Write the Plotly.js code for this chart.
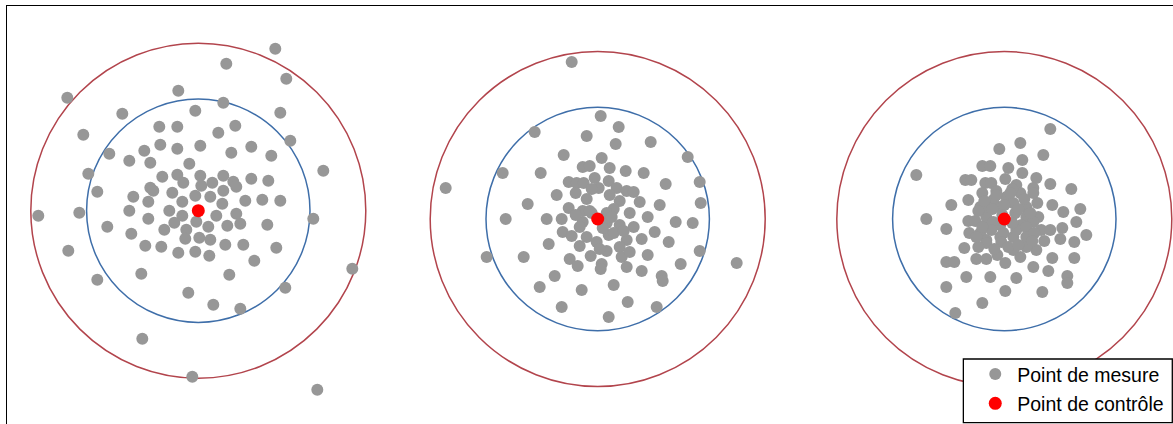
<!DOCTYPE html>
<html>
<head>
<meta charset="utf-8">
<script src="https://cdn.plot.ly/plotly-3.0.1.min.js"></script>
<style>
html, body { margin: 0; padding: 0; background: #fff; overflow: hidden; }
#chart { width: 1173px; height: 424px; }
</style>
</head>
<body>
<div id="chart"></div>
<script>
// Target (control point) centres, in px-like units
const targetCX = [0, 399.4, 806];
const targetCY = [0, -8.3, -8.3];
// Tolerance circle radii
const innerRadius = 111.7;
const outerRadius = 167.5;

// Measurement offsets from the control point, target 1
const t1dx = [77,28,88,-131,-20,25,-76,-3,82,-115,92,-89,125,-110,-101,-160,-119,115,-130,154,-101,87,-56,-6,119,42,15,-10,-57,31,56,78,
  -39,-21,37,20,-38,-21,2,-54,33,53,73,-69,-48,-9,-36,-21,-15,2,25,35,38,53,70,14,3,-48,-45,-26,-3,12,25,-65,-50,-16,24,47,64,82,-69,-29,
  -16,18,38,-50,-24,-2,10,29,42,69,-91,-67,-34,-12,-13,1,12,-53,-37,-20,-3,11,27,45];
const t1dy = [162,147,132,113,120,108,97,100,98,76,70,57,40,37,19,-5,-2,-8,-40,-58,-69,-77,-128,-166,-179,-98,-94,-82,-63,-64,-50,-37,
  84,84,85,78,66,62,65,60,58,64,55,50,48,47,34,36,28,35,35,29,24,32,30,28,25,23,20,18,15,14,20,14,9,9,7,10,11,10,0,0,
  -5,-5,-3,-8,-12,-11,-16,-15,-13,-14,-16,-23,-19,-19,-28,-27,-29,-35,-36,-42,-41,-45,-34,-34];

// Target 2
const t2dx = [-26,-152,139,-111,3,21,-63,-11,18,53,-34,4,90,-95,-57,-15,-8,12,28,46,102,68,-29,-21,-14,-3,11,1,19,29,
  36,-41,-22,-11,12,22,42,62,103,-70,-29,-15,16,32,-92,-51,-36,-15,9,22,36,50,78,95,-35,-26,-11,-1,11,16,
  29,44,57,71,-49,-18,9,22,24,32,50,102,-74,-28,-20,-7,4,3,29,44,64,65,83,-43,-58,-16,16,-36,30,59,11,
  -6,9,-18,5,-8,14,-22,26,-6,2];
const t2dy = [157,31,-44,-38,103,92,87,83,75,77,64,61,62,46,46,52,53,51,48,46,37,35,37,36,36,41,38,31,31,28,
  27,24,26,20,24,18,17,14,16,15,11,8,10,6,0,0,0,-3,-4,-6,-8,2,-3,-4,-13,-17,-18,-23,-16,-14,
  -21,-20,-13,-23,-25,-27,-32,-28,-38,-33,-36,-32,-38,-40,-47,-37,-45,-50,-48,-52,-57,-62,-45,-57,-68,-71,-66,-88,-83,-88,-98,
  6,6,-8,-9,8,2,4,-12,30,-30];

// Target 3
const t3dx = [46,16,-5,39,18,-22,-14,4,-88,18,32,-39,-33,-19,-13,1,12,29,46,67,-22,-36,-53,-24,-11,2,16,29,33,48,
  59,76,-78,-36,-29,11,22,34,72,-58,-35,-24,37,46,58,82,40,56,70,-40,-58,-50,-28,-18,-7,1,9,16,48,70,
  29,44,-38,-14,12,63,63,-58,1,38,-22,-49,32,22,-18,-4,9,-18,-4,17,29,
  -18,-11,-13,-1,12,22,-18,-3,22,22,-4,9,22,-18,-8,8,-26,
  -20,-8,6,20,-26,-12,0,14,26,-22,8,30,-28,-10,4,14,28,-2];
const t3dy = [90,76,70,64,59,53,53,51,44,46,41,39,39,36,36,40,34,31,35,30,26,19,14,12,19,22,26,26,16,14,
  7,10,0,-2,-2,6,2,2,-3,-10,-14,-14,-11,-11,-9,-16,-22,-20,-23,-29,-43,-43,-40,-40,-36,-44,-31,-38,-39,-39,
  -48,-52,-58,-58,-59,-57,-64,-68,-72,-73,-84,-94,-31,-25,-21,-18,-18,-5,-6,-6,-3,
  2,-3,-11,-14,-11,-8,-24,-23,-18,-28,12,16,12,12,28,30,-28,
  18,24,26,20,8,10,14,10,6,-8,-4,-14,-18,-30,-28,-26,-22,4];

const seriesNames = ["Point de mesure", "Point de contrôle"];

const offsetsX = [t1dx, t2dx, t3dx];
const offsetsY = [t1dy, t2dy, t3dy];
const measX = [], measY = [];
offsetsX.forEach((arr, i) => {
  arr.forEach((d, j) => {
    measX.push(targetCX[i] + d);
    measY.push(targetCY[i] + offsetsY[i][j]);
  });
});

const shapes = [];
targetCX.forEach((cx, i) => {
  const cy = targetCY[i];
  shapes.push({type: 'circle', xref: 'x', yref: 'y', layer: 'below',
    x0: cx - outerRadius, x1: cx + outerRadius, y0: cy - outerRadius, y1: cy + outerRadius,
    line: {color: '#b2444c', width: 1.5}});
  shapes.push({type: 'circle', xref: 'x', yref: 'y', layer: 'below',
    x0: cx - innerRadius, x1: cx + innerRadius, y0: cy - innerRadius, y1: cy + innerRadius,
    line: {color: '#3e6ea9', width: 1.5}});
});
// legend frame
shapes.push({type: 'rect', xref: 'paper', yref: 'paper', layer: 'above',
  x0: 0.8202, x1: 0.9994, y0: 0.0031, y1: 0.1555,
  fillcolor: '#ffffff', line: {color: '#000000', width: 1.3}});

const traces = [
  {type: 'scatter', mode: 'markers', name: seriesNames[0], x: measX, y: measY,
   legendgroup: 'a', marker: {color: '#979797', size: 12, line: {width: 0}}, hoverinfo: 'skip'},
  {type: 'scatter', mode: 'markers', name: seriesNames[1], x: targetCX, y: targetCY,
   legendgroup: 'b', marker: {color: '#ff0000', size: 13, line: {width: 0}}, hoverinfo: 'skip'}
];

const layout = {
  width: 1173, height: 424,
  margin: {l: 7, r: 0, t: 6, b: 0, pad: 0, autoexpand: false},
  paper_bgcolor: '#ffffff', plot_bgcolor: '#ffffff',
  showlegend: true,
  font: {family: 'Liberation Sans, Arial, sans-serif', color: '#000000'},
  xaxis: {range: [-191.3, 974.7], showgrid: false, zeroline: false, showticklabels: false,
          ticks: '', showline: true, side: 'top', linecolor: '#000000', linewidth: 1.3, fixedrange: true},
  yaxis: {range: [-213.3, 204.7], showgrid: false, zeroline: false, showticklabels: false,
          ticks: '', showline: true, side: 'left', linecolor: '#000000', linewidth: 1.3, fixedrange: true},
  legend: {x: 0.8287, y: 0.1656, xanchor: 'left', yanchor: 'top',
           bgcolor: 'rgba(0,0,0,0)', borderwidth: 0,
           font: {size: 19.5, color: '#000000', family: 'Liberation Sans, Arial, sans-serif'},
           itemwidth: 34, tracegroupgap: 1},
  shapes: shapes
};

Plotly.newPlot('chart', traces, layout, {displayModeBar: false, staticPlot: true});
</script>
</body>
</html>
